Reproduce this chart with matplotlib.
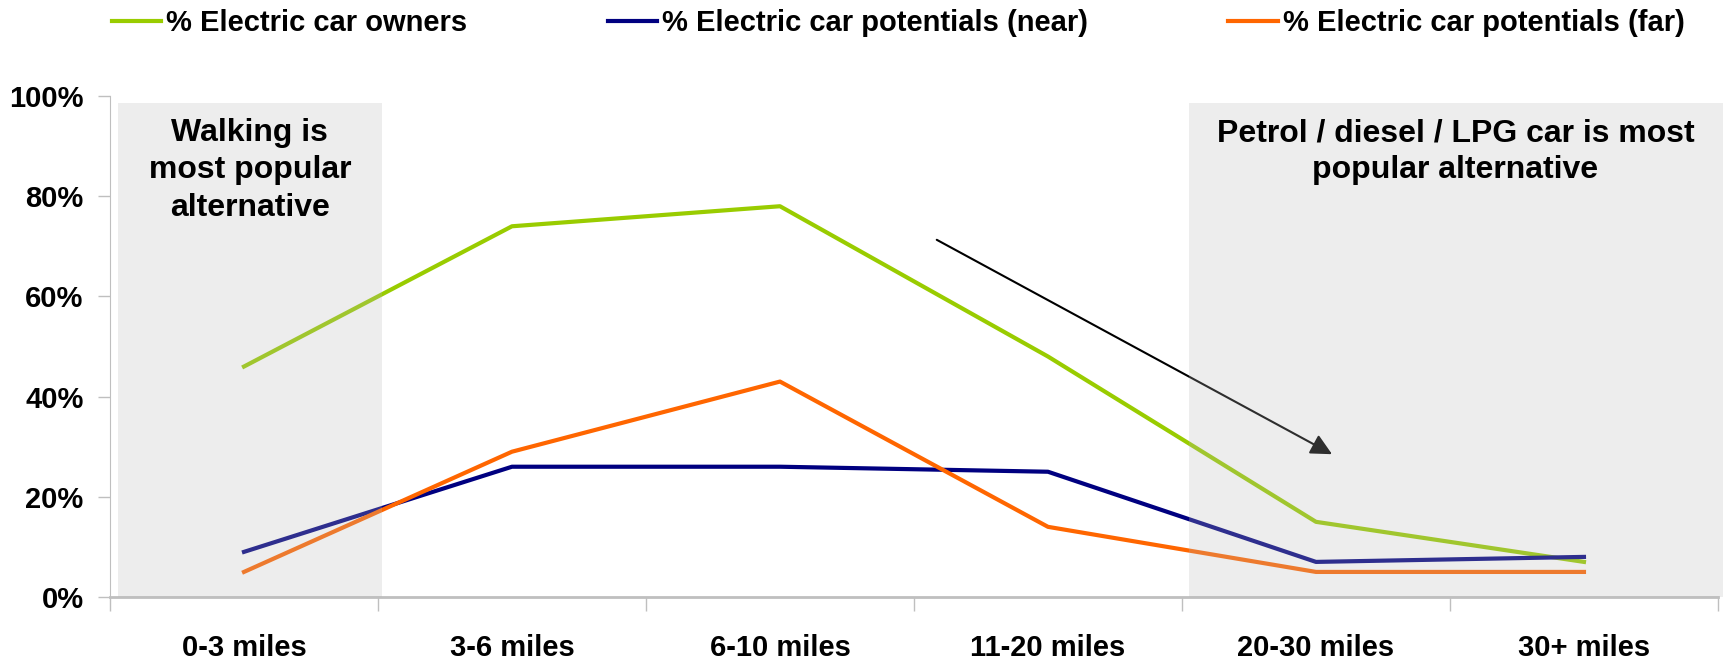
import matplotlib
matplotlib.use("Agg")
import matplotlib.pyplot as plt
from matplotlib.patches import Rectangle
import numpy as np

categories = ["0-3 miles", "3-6 miles", "6-10 miles", "11-20 miles", "20-30 miles", "30+ miles"]
owners = [46, 74, 78, 48, 15, 7]
potentials_near = [9, 26, 26, 25, 7, 8]
potentials_far = [5, 29, 43, 14, 5, 5]
y_ticks = [0, 20, 40, 60, 80, 100]

plt.rcParams['font.family'] = ['Liberation Sans', 'DejaVu Sans']
plt.rcParams['font.weight'] = 'bold'

fig = plt.figure(figsize=(17.24, 6.6), dpi=100)
ax = fig.add_axes([0.0638, 0.0955, 0.9327, 0.759])

x = np.arange(len(categories))
l1, = ax.plot(x, owners, color='#99CC00', lw=3, zorder=2)
l2, = ax.plot(x, potentials_near, color='#000080', lw=3, zorder=2)
l3, = ax.plot(x, potentials_far, color='#FF6600', lw=3, zorder=2)

# arrow
ax.annotate('', xy=(4.06, 28.5), xytext=(2.585, 71.3),
            arrowprops=dict(arrowstyle='-|>', color='black', lw=1.5,
                            mutation_scale=32, shrinkA=0, shrinkB=0),
            zorder=2)

# shaded regions drawn on top (semi-transparent)
ax.add_patch(Rectangle((-0.47, 0), 0.985, 98.6, facecolor='#B8B8B8', alpha=0.25,
                       edgecolor='none', zorder=3))
ax.add_patch(Rectangle((3.525, 0), 2.0, 98.6, facecolor='#B8B8B8', alpha=0.25,
                       edgecolor='none', zorder=3, clip_on=False))

ax.text(0.022, 95.6, "Walking is\nmost popular\nalternative", ha='center', va='top',
        fontsize=23, fontweight='bold', linespacing=1.32, zorder=4)
ax.text(4.52, 95.6, "Petrol / diesel / LPG car is most\npopular alternative", ha='center',
        va='top', fontsize=23, fontweight='bold', linespacing=1.32, zorder=4)

ax.set_xlim(-0.5, 5.5)
ax.set_ylim(0, 100)
ax.set_yticks(y_ticks)
ax.set_yticklabels([f"{v}%" for v in y_ticks], fontsize=21, fontweight='bold')
ax.set_xticks(x)
ax.set_xticklabels(categories, fontsize=21, fontweight='bold')
ax.set_xticks(np.arange(-0.5, 6.0, 1.0), minor=True)
ax.tick_params(axis='x', which='major', length=0, pad=27)
ax.tick_params(axis='x', which='minor', length=10, color='#BFBFBF', width=1)
ax.tick_params(axis='y', length=9, color='#BFBFBF', width=1, pad=10)

for s in ['top', 'right']:
    ax.spines[s].set_visible(False)
ax.spines['left'].set_color('#BFBFBF')
ax.spines['bottom'].set_color('#BFBFBF')
ax.spines['bottom'].set_linewidth(2)

fig.legend([l1, l2, l3],
           ["% Electric car owners", "% Electric car potentials (near)",
            "% Electric car potentials (far)"],
           loc='center', bbox_to_anchor=(0.521, 0.965), ncol=3, frameon=False,
           prop={'size': 21, 'weight': 'bold'}, handlelength=1.7, handletextpad=0.17,
           columnspacing=4.8)

fig.savefig("out.png", dpi=100)
